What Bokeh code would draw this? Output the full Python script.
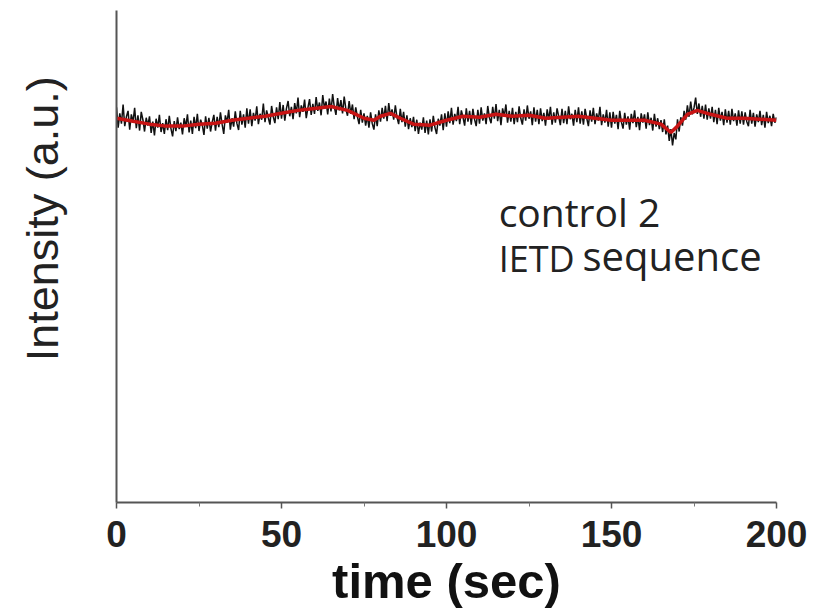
from bokeh.plotting import figure
from bokeh.models import Label, FixedTicker, Range1d
from bokeh.layouts import row
from bokeh.embed import file_html
from bokeh.resources import INLINE
import math

# --- data ---
raw_intensity = [
    80.3, 76.2, 79.1, 77.0, 80.9, 76.5, 78.4, 79.6, 75.8, 78.9, 77.3, 80.2, 76.1, 78.7, 75.6, 79.4, 77.8, 75.4, 78.2, 76.6,
    78.5, 75.1, 77.4, 74.6, 78.0, 76.2, 78.8, 75.3, 77.1, 74.9, 77.9, 75.7, 78.6, 76.0, 74.4, 77.5, 75.5, 78.3, 75.9, 77.2,
    74.8, 78.1, 76.4, 78.9, 75.2, 77.6, 74.9, 78.4, 76.1, 79.0, 75.5, 77.8, 76.7, 74.7, 78.5, 76.0, 78.2, 75.4, 77.3, 78.8,
    75.6, 78.4, 76.3, 79.3, 76.9, 74.9, 78.7, 77.2, 79.8, 75.8, 78.1, 76.4, 79.5, 77.0, 75.7, 79.6, 76.8, 78.9, 76.2, 80.1,
    77.0, 79.9, 76.5, 79.2, 77.6, 80.5, 76.9, 79.0, 77.8, 81.1, 77.3, 79.7, 78.2, 76.8, 80.6, 78.4, 77.1, 80.3, 77.9, 81.4,
    78.0, 80.8, 77.6, 80.1, 81.6, 78.5, 80.4, 77.9, 81.2, 79.1, 82.3, 78.3, 80.7, 79.4, 81.9, 78.1, 80.2, 82.0, 78.8, 81.0,
    79.0, 82.4, 79.6, 81.3, 78.7, 82.8, 80.2, 81.5, 78.9, 82.1, 79.5, 83.0, 80.4, 78.8, 82.2, 79.7, 81.8, 79.1, 82.5, 80.0,
    78.6, 81.6, 79.0, 80.9, 77.9, 80.3, 78.4, 76.9, 79.8, 77.2, 79.1, 76.6, 78.6, 76.2, 79.3, 77.0, 75.8, 78.9, 76.5, 79.7,
    77.4, 80.2, 78.0, 80.6, 77.5, 81.2, 78.6, 79.9, 77.8, 80.7, 78.3, 76.9, 80.0, 77.3, 79.4, 76.4, 78.7, 75.9, 78.1, 76.3,
    78.4, 75.5, 77.8, 74.9, 77.2, 75.8, 78.3, 75.1, 77.6, 74.8, 77.9, 75.4, 78.6, 76.2, 74.9, 78.0, 76.6, 78.9, 75.7, 79.1,
    76.4, 79.5, 77.1, 80.2, 76.8, 79.0, 77.5, 80.4, 76.9, 79.7, 78.3, 76.6, 80.1, 77.4, 79.6, 76.8, 80.0, 77.9, 76.5, 79.8,
    77.0, 80.3, 77.6, 79.1, 76.9, 80.6, 78.2, 77.1, 80.4, 78.0, 81.0, 77.5, 79.8, 76.7, 80.1, 78.5, 80.9, 77.2, 79.6, 77.4,
    80.2, 76.9, 79.4, 77.3, 80.5, 78.1, 76.8, 79.9, 77.6, 80.7, 78.0, 79.5, 76.7, 80.3, 77.4, 79.8, 76.9, 80.1, 77.5, 79.2,
    76.6, 79.9, 77.8, 80.4, 76.8, 79.3, 77.2, 80.1, 78.5, 76.7, 80.0, 77.1, 79.6, 76.9, 80.5, 77.9, 79.0, 76.6, 79.8, 77.3,
    80.3, 77.0, 79.5, 76.8, 80.0, 78.1, 76.5, 79.7, 77.4, 80.2, 76.9, 79.1, 77.6, 80.4, 76.7, 78.9, 77.2, 79.8, 76.4, 79.3,
    76.2, 79.4, 77.0, 78.8, 75.9, 79.6, 77.3, 76.0, 79.2, 76.8, 78.5, 75.8, 79.0, 77.1, 79.7, 76.3, 78.4, 75.7, 79.1, 77.2,
    78.9, 76.0, 79.3, 76.7, 78.2, 75.6, 79.0, 76.4, 78.1, 75.9, 77.7, 75.3, 77.9, 74.8, 76.6, 73.5, 75.9, 72.6, 75.1, 73.8,
    77.9, 75.4, 78.3, 76.6, 79.6, 77.8, 80.7, 78.4, 81.5, 78.9, 80.2, 82.3, 79.0, 81.1, 78.4, 80.6, 78.0, 80.9, 77.8, 80.1,
    78.0, 80.4, 77.3, 79.8, 76.9, 80.2, 77.6, 79.4, 76.7, 79.9, 77.2, 79.6, 76.8, 80.0, 77.5, 79.1, 76.6, 79.7, 77.0, 79.5,
    76.8, 79.3, 77.4, 76.5, 79.8, 77.0, 79.2, 76.4, 78.9, 77.3, 79.6, 76.7, 78.8, 76.2, 79.4, 77.1, 78.6, 76.5, 79.0, 77.2,
    78.3,
]
t_step = 0.5  # seconds between raw samples
raw_time = [i * t_step for i in range(len(raw_intensity))]

smooth_time = [0, 5, 10, 15, 20, 25, 30, 35, 40, 45, 50, 55, 60, 65, 70, 75,
               78, 80, 83, 86, 90, 95, 100, 105, 110, 115, 120, 125, 130, 135,
               140, 145, 150, 155, 160, 165, 168, 170, 173, 176, 180, 185, 190,
               195, 200]
smooth_intensity = [78.1, 77.5, 76.9, 76.5, 76.5, 76.9, 77.1, 77.7, 78.1, 78.5,
                    79.1, 79.7, 80.1, 80.5, 79.7, 78.1, 77.7, 78.5, 79.1, 78.1,
                    76.9, 76.7, 77.7, 78.5, 78.3, 78.9, 78.5, 78.7, 78.1, 78.3,
                    78.5, 78.1, 77.7, 77.7, 77.7, 76.9, 75.2, 76.5, 78.9, 79.7,
                    78.9, 78.1, 78.1, 77.9, 77.7]

x_ticks = [0, 50, 100, 150, 200]
x_minor = [25, 75, 125, 175]

# --- narrow left panel holding the rotated y-axis title ---
side = figure(width=96, height=610, output_backend="svg", toolbar_location=None,
              x_range=Range1d(0, 96), y_range=Range1d(0, 610),
              x_axis_type=None, y_axis_type=None,
              min_border_left=0, min_border_right=0, min_border_top=0,
              min_border_bottom=0)
side.outline_line_color = None
side.grid.visible = False
side.add_layout(Label(x=42, y=175, text="Intensity (a.u.)", angle=math.pi / 2,
                      text_align="left", text_baseline="middle",
                      text_font="Liberation Sans", text_font_size="45px",
                      text_color="#222222"))

# --- main plot ---
p = figure(width=724, height=610, output_backend="svg", toolbar_location=None,
           x_range=Range1d(0, 200), y_range=Range1d(0, 100),
           min_border_left=20, min_border_right=44, min_border_top=10,
           min_border_bottom=107)
p.outline_line_color = None
p.grid.visible = False
p.background_fill_color = "white"
p.border_fill_color = "white"

p.line(raw_time, raw_intensity, line_color="#111111", line_width=1.5)
p.line(smooth_time, smooth_intensity, line_color="#c81414", line_width=3.5)

xa = p.xaxis[0]
xa.ticker = FixedTicker(ticks=x_ticks, minor_ticks=x_minor)
xa.axis_line_color = "#555555"
xa.axis_line_width = 2
xa.major_tick_line_color = "#555555"
xa.major_tick_line_width = 1.5
xa.major_tick_out = 6
xa.major_tick_in = 0
xa.minor_tick_line_color = "#777777"
xa.minor_tick_out = 4
xa.minor_tick_in = 0
xa.major_label_text_font = "Liberation Sans"
xa.major_label_text_font_style = "bold"
xa.major_label_text_font_size = "37px"
xa.major_label_text_color = "#222222"
xa.major_label_standoff = 12
xa.axis_label = "time (sec)"
xa.axis_label_text_font = "Liberation Sans"
xa.axis_label_text_font_style = "bold"
xa.axis_label_text_font_size = "49px"
xa.axis_label_text_color = "#111111"
xa.axis_label_standoff = 4

ya = p.yaxis[0]
ya.ticker = FixedTicker(ticks=[])
ya.axis_line_color = "#555555"
ya.axis_line_width = 2
ya.major_tick_line_color = None
ya.minor_tick_line_color = None
ya.major_label_text_font_size = "0px"

p.add_layout(Label(x=115.8, y=53.75, text="control 2", text_font="Open Sans",
                   text_font_size="39px", text_color="#222222"))
p.add_layout(Label(x=115.8, y=44.7, text="IETD", text_font="Open Sans",
                   text_font_size="36px", text_color="#222222"))
p.add_layout(Label(x=141.2, y=44.6, text="sequence", text_font="Open Sans",
                   text_font_size="40px", text_color="#222222"))

layout = row(side, p, spacing=0)
open("out.html", "w").write(file_html(layout, INLINE))
